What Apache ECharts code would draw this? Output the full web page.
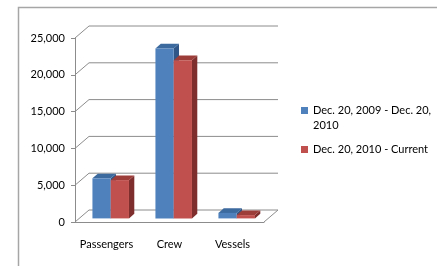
<!DOCTYPE html>
<html>
<head>
<meta charset="utf-8">
<script src="https://cdn.jsdelivr.net/npm/echarts@6/dist/echarts.min.js"></script>
<style>
    html, body { margin: 0; padding: 0; background: #fff; }
    #chart { width: 437px; height: 266px; }
</style>
</head>
<body>
<div id="chart"></div>
<script>
// data
var categories = ['Passengers', 'Crew', 'Vessels'];
var seriesNames = ['Dec. 20, 2009 - Dec. 20, 2010', 'Dec. 20, 2010 - Current'];
var prevYear = [5450, 23100, 750];
var currentYear = [5200, 21500, 450];
var yTicks = [0, 5000, 10000, 15000, 20000, 25000];

// fake 3d look (excel style)
var DX = 14, DY = -12;      // full depth of the back wall
var F0 = 0.3, F1 = 0.68;    // bar sits in the middle of the depth
var BAR = 0.29;             // bar width as part of the category band
var faces = [
    { front: '#4F81BD', top: '#3C6A9F', side: '#2F5687' },
    { front: '#C0504D', top: '#9D3D3A', side: '#7E2E2C' }
];
var gridColor = '#8C8C8C';

function barRender(k) {
    return function (params, api) {
        var idx = api.value(0);
        var base = api.coord([idx, 0]);
        var top = api.coord([idx, api.value(1)]);
        var bw = api.size([1, 0])[0] * BAR;
        var xl = base[0] - bw + k * bw;
        var xr = xl + bw;
        var ox0 = F0 * DX, oy0 = F0 * DY, ox1 = F1 * DX, oy1 = F1 * DY;
        var ty = top[1], by = base[1];
        var c = faces[k];
        return {
            type: 'group',
            children: [
                { type: 'polygon', shape: { points: [[xr + ox0, ty + oy0], [xr + ox1, ty + oy1], [xr + ox1, by + oy1], [xr + ox0, by + oy0]] }, style: { fill: c.side } },
                { type: 'polygon', shape: { points: [[xl + ox0, ty + oy0], [xr + ox0, ty + oy0], [xr + ox1, ty + oy1], [xl + ox1, ty + oy1]] }, style: { fill: c.top } },
                { type: 'rect', shape: { x: xl + ox0, y: ty + oy0, width: bw, height: by - ty }, style: { fill: c.front } }
            ]
        };
    };
}

function wallRender(params, api) {
    var cs = params.coordSys;
    var v = api.value(0);
    var y = api.coord([0, v])[1];
    var left = cs.x, right = cs.x + cs.width;
    var children = [
        { type: 'polyline', shape: { points: [[left, y], [left + DX, y + DY], [right + DX, y + DY]] }, style: { stroke: gridColor, lineWidth: 1, fill: null } }
    ];
    if (v === 0) {
        children.push({ type: 'line', shape: { x1: right, y1: y, x2: right + DX, y2: y + DY }, style: { stroke: gridColor, lineWidth: 1 } });
    }
    return { type: 'group', children: children };
}

var chart = echarts.init(document.getElementById('chart'));
var option = {
    animation: false,
    textStyle: { fontFamily: 'Lato' },
    graphic: [{
        type: 'rect', left: 16, top: 5, z: -1,
        shape: { width: 440, height: 280 },
        style: { fill: null, stroke: '#A6A6A6', lineWidth: 1.5 }
    }],
    grid: { left: 75, right: 173, top: 38, bottom: 44 },
    legend: {
        orient: 'vertical',
        left: 301, top: 88,
        padding: 0,
        itemWidth: 7, itemHeight: 7,
        itemGap: 9,
        icon: 'rect',
        data: [
            { name: seriesNames[0], itemStyle: { color: faces[0].front } },
            { name: seriesNames[1], itemStyle: { color: faces[1].front } }
        ],
        // blank first line keeps the square level with the first text line
        formatter: function (name) {
            return name === seriesNames[0] ? ' \nDec. 20, 2009 - Dec. 20,\n2010' : name;
        },
        textStyle: { fontFamily: 'Lato', fontSize: 11, color: '#000', lineHeight: 15 }
    },
    xAxis: {
        type: 'category',
        data: categories,
        axisLine: { lineStyle: { color: gridColor } },
        axisTick: { length: 6, lineStyle: { color: gridColor } },
        axisLabel: { interval: 0, margin: 17, fontSize: 11, color: '#000', fontFamily: 'Lato' }
    },
    yAxis: {
        type: 'value',
        min: 0, max: 25000, interval: 5000,
        axisLine: { show: true, lineStyle: { color: gridColor } },
        axisTick: { show: true, length: 4, lineStyle: { color: gridColor } },
        splitLine: { show: false },
        axisLabel: {
            margin: 10, fontSize: 11, color: '#000', fontFamily: 'Lato',
            formatter: function (v) { return v.toLocaleString('en-US'); }
        }
    },
    series: [
        {
            type: 'custom', name: 'walls', silent: true, z: 1,
            renderItem: wallRender,
            data: yTicks.map(function (v) { return [v]; }),
            encode: { y: 0 }
        },
        {
            type: 'custom', name: seriesNames[0], z: 2,
            itemStyle: { color: faces[0].front },
            renderItem: barRender(0),
            data: prevYear.map(function (v, i) { return [i, v]; }),
            encode: { x: 0, y: 1 }
        },
        {
            type: 'custom', name: seriesNames[1], z: 3,
            itemStyle: { color: faces[1].front },
            renderItem: barRender(1),
            data: currentYear.map(function (v, i) { return [i, v]; }),
            encode: { x: 0, y: 1 }
        }
    ]
};
chart.setOption(option);
window.addEventListener('resize', chart.resize);
</script>
</body>
</html>
